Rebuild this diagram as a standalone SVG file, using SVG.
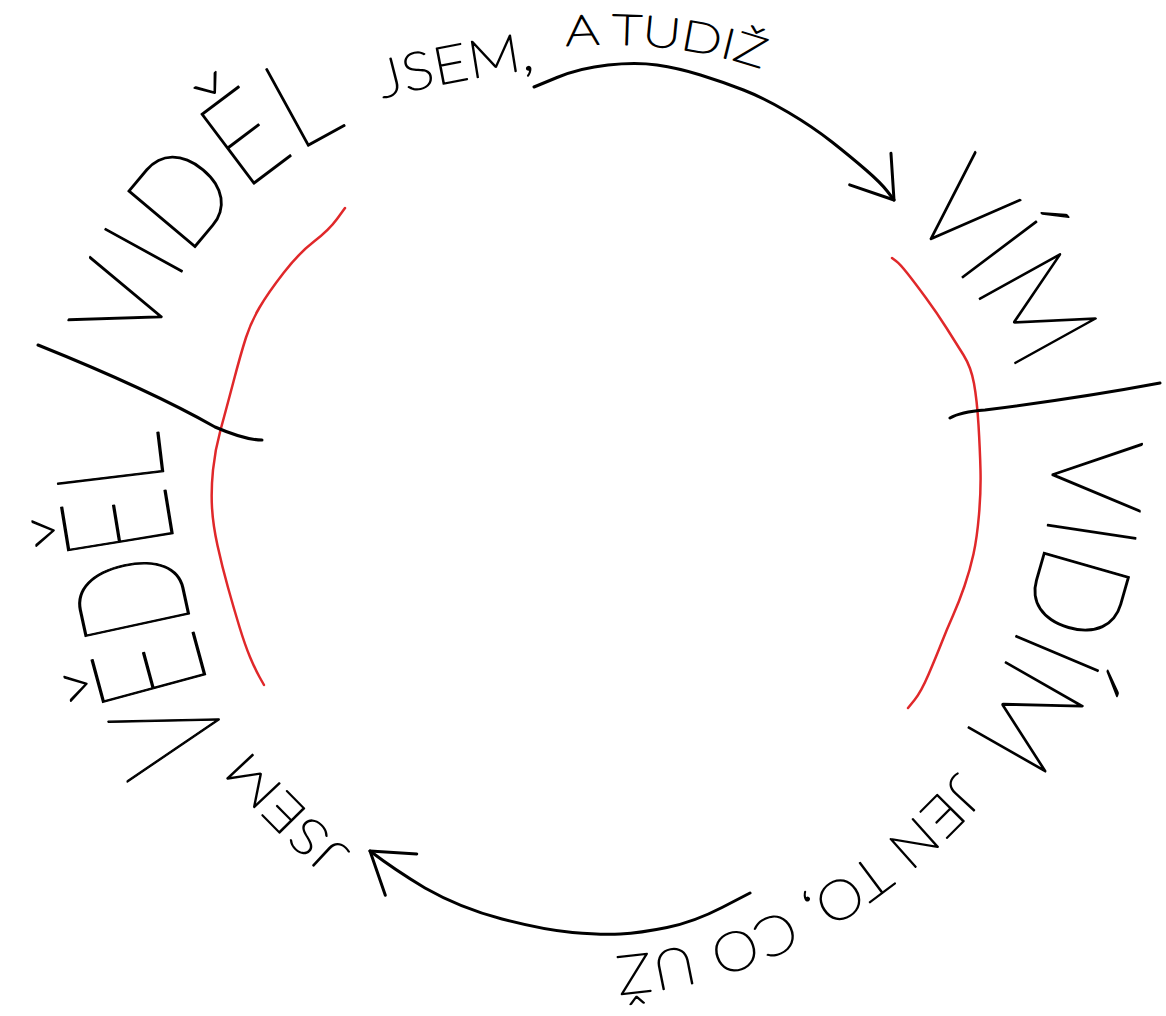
<svg xmlns="http://www.w3.org/2000/svg" width="1166" height="1016" viewBox="0 0 1166 1016">
<style>
 .t{font-family:Lato,"Open Sans","DejaVu Sans",sans-serif;font-weight:100;fill:#000;stroke:#000;stroke-width:1.6;stroke-linejoin:round}
 .ink{fill:none;stroke:#000;stroke-width:3;stroke-linecap:round;stroke-linejoin:round}
 .red{fill:none;stroke:#e0282a;stroke-width:2.5;stroke-linecap:round;stroke-linejoin:round}
</style>
<defs>
 <marker id="arr" markerUnits="userSpaceOnUse" markerWidth="70" markerHeight="70" refX="55" refY="35" orient="auto" overflow="visible">
  <path d="M16,9 L55,35 L16,61" fill="none" stroke="#000" stroke-width="3" stroke-linecap="round" stroke-linejoin="round"/>
 </marker>
 <path id="p-vedel" d="M 230 752 Q 174 590 158 423"/>
 <path id="p-videl" d="M 152 352 Q 185 200 355 122"/>
 <path id="p-jsem1" d="M 383 98 Q 450 80 540 68"/>
 <path id="p-atudiz" d="M 566 46 Q 680 38 770 72"/>
 <path id="p-vim" d="M 905 214 Q 985 287 1025 390"/>
 <path id="p-vidim" d="M 1052 438 Q 1060 600 950 752"/>
 <path id="p-jento" d="M 958 772 Q 795 955 588 958"/>
 <path id="p-jsem2" d="M 350 852 Q 302 808 256 758"/>
</defs>
<rect width="1166" height="1016" fill="#fff"/>

<g id="cycle-guides">
 <path class="red" d="M345,208 L337,219 Q329,230 314,241.5 Q299,253 283.5,273 Q268,293 259.5,307.5 Q251,322 246,337.5 Q241,353 233.5,381.5 Q226,410 220.5,430 Q215,450 213,470 Q211,490 212,507.5 Q213,525 217.5,545.5 Q222,566 228,587.5 Q234,609 239.5,627 Q245,645 250,657 Q255,669 259.5,677 L264,685"/>
 <path class="red" d="M892,258 L896,261 Q900,264 907.5,273.5 Q915,283 926,298 Q937,313 946.5,328 Q956,343 963.5,355 Q971,367 974,383.5 Q977,400 978.5,425 Q980,450 980.5,470.5 Q981,491 979,514.5 Q977,538 973.5,554 Q970,570 964.5,586 Q959,602 953,615.5 Q947,629 941.5,643 Q936,657 928.5,674.5 Q921,692 914.5,700 L908,708"/>
 <path class="ink" d="M38,345 Q150,390 215,427 Q245,440 262,440"/>
 <path class="ink" d="M950,418 Q960,412 985,410 Q1080,398 1160,383"/>
</g>

<g id="node-left">
 <text class="t" font-size="152"><textPath href="#p-vedel" textLength="330" lengthAdjust="spacingAndGlyphs">VĚDĚL</textPath></text>
 <text class="t" font-size="125"><textPath href="#p-videl" textLength="310" lengthAdjust="spacingAndGlyphs">VIDĚL</textPath></text>
</g>
<g id="node-top">
 <text class="t" font-size="52"><textPath href="#p-jsem1" textLength="155" lengthAdjust="spacingAndGlyphs">JSEM,</textPath></text>
 <text class="t" font-size="42"><textPath href="#p-atudiz" textLength="198" lengthAdjust="spacingAndGlyphs">A TUDIŽ</textPath></text>
</g>
<g id="node-right">
 <text class="t" font-size="132"><textPath href="#p-vim" textLength="200" lengthAdjust="spacingAndGlyphs">VÍM</textPath></text>
 <text class="t" font-size="127"><textPath href="#p-vidim" textLength="320" lengthAdjust="spacingAndGlyphs">VIDÍM</textPath></text>
</g>
<g id="node-bottom">
 <text class="t" font-size="54"><textPath href="#p-jento" textLength="400" lengthAdjust="spacingAndGlyphs">JEN TO, CO UŽ</textPath></text>
</g>
<g id="node-bottom-left">
 <text class="t" font-size="50"><textPath href="#p-jsem2" textLength="145" lengthAdjust="spacingAndGlyphs">JSEM</textPath></text>
</g>

<g id="connectors">
 <path class="ink" marker-end="url(#arr)" d="M534,87 L557,77.5 Q580,68 608,65 Q636,62 657,65 Q678,68 700.5,75 Q723,82 743.5,90 Q764,98 788.5,112.5 Q813,127 832,142 Q851,157 866,170 Q881,183 887.5,191.5 L894,200"/>
 <path class="ink" marker-end="url(#arr)" d="M750,893 L722,907.5 Q694,922 667,927.5 Q640,933 620.5,934 Q601,935 572.5,932.5 Q544,930 502,919 Q460,908 425,888 Q395,870 370,851"/>
</g>
</svg>
